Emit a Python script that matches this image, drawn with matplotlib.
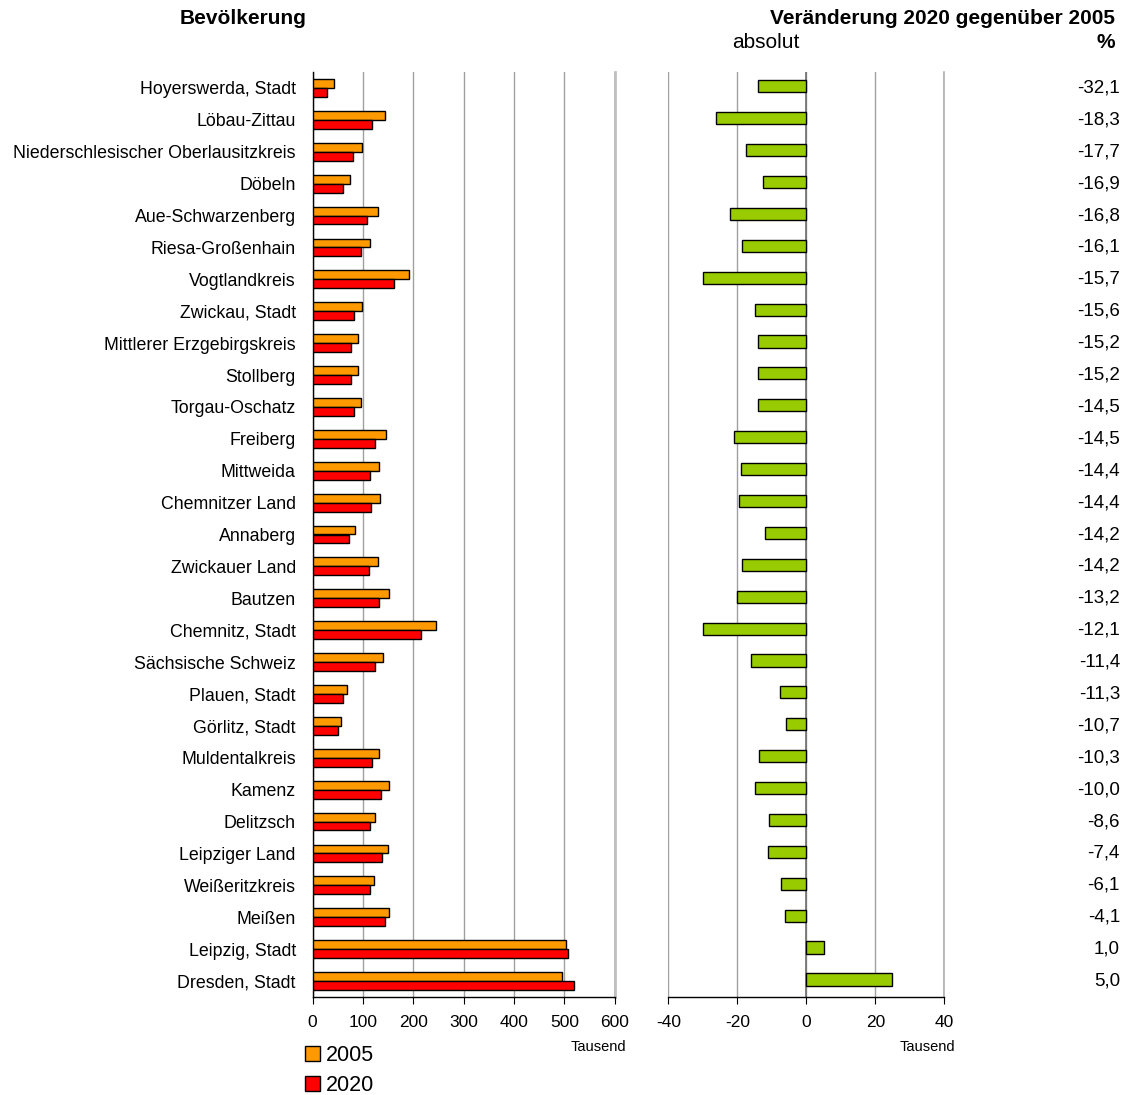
import numpy as np
import matplotlib.pyplot as plt
from matplotlib.patches import Patch
from matplotlib.transforms import blended_transform_factory

plt.rcParams['font.family'] = ['Liberation Sans', 'DejaVu Sans']
plt.rcParams['axes.unicode_minus'] = False

# Kreise, sortiert nach relativer Veraenderung
regions = ['Hoyerswerda, Stadt', 'Löbau-Zittau', 'Niederschlesischer Oberlausitzkreis',
           'Döbeln', 'Aue-Schwarzenberg', 'Riesa-Großenhain', 'Vogtlandkreis',
           'Zwickau, Stadt', 'Mittlerer Erzgebirgskreis', 'Stollberg', 'Torgau-Oschatz',
           'Freiberg', 'Mittweida', 'Chemnitzer Land', 'Annaberg', 'Zwickauer Land',
           'Bautzen', 'Chemnitz, Stadt', 'Sächsische Schweiz', 'Plauen, Stadt',
           'Görlitz, Stadt', 'Muldentalkreis', 'Kamenz', 'Delitzsch', 'Leipziger Land',
           'Weißeritzkreis', 'Meißen', 'Leipzig, Stadt', 'Dresden, Stadt']

# Bevoelkerung in Tausend
pop_2005 = [43.5, 143.5, 97.5, 73.5, 130, 114.5, 192, 98, 90, 90, 97,
            146, 133, 135, 84, 130, 151.5, 246, 140, 68, 57, 132, 151,
            124, 149, 122, 151, 502.5, 495]
pop_2020 = [29.5, 117.2, 80, 61, 108, 96, 162, 83, 76, 76, 83,
            125, 114, 115.6, 72, 111.5, 131.5, 216, 124, 60.3, 51, 118.4, 136,
            113.3, 138, 114.6, 144.8, 507.5, 519.8]

pct_labels = ['-32,1', '-18,3', '-17,7', '-16,9', '-16,8', '-16,1', '-15,7', '-15,6',
              '-15,2', '-15,2', '-14,5', '-14,5', '-14,4', '-14,4', '-14,2', '-14,2',
              '-13,2', '-12,1', '-11,4', '-11,3', '-10,7', '-10,3', '-10,0', '-8,6',
              '-7,4', '-6,1', '-4,1', '1,0', '5,0']

change = np.array(pop_2020) - np.array(pop_2005)
y = np.arange(len(regions))

W, H = 1126, 1095
fig = plt.figure(figsize=(W / 100, H / 100), dpi=100)

bottom = 1 - 997 / H
height = (997 - 72) / H
ax1 = fig.add_axes([312.5 / W, bottom, (614.7 - 312.5) / W, height])
ax2 = fig.add_axes([668.3 / W, bottom, (944.3 - 668.3) / W, height])

bh = 0.28
ax1.barh(y - bh / 2, pop_2005, height=bh, color='#FF9900', edgecolor='black', linewidth=1, zorder=3)
ax1.barh(y + bh / 2, pop_2020, height=bh, color='#FF0000', edgecolor='black', linewidth=1, zorder=3)
ax2.barh(y - 0.05, change, height=0.38, color='#99CC00', edgecolor='black', linewidth=1, zorder=3)

ax1.set_xlim(0, 600)
ax1.set_xticks(range(0, 601, 100))
ax2.set_xlim(-40, 40)
ax2.set_xticks(range(-40, 41, 20))
for ax in (ax1, ax2):
    ax.set_ylim(len(regions) - 0.5, -0.5)
    ax.grid(axis='x', color='#a0a0a0', linewidth=1, zorder=0)
    for s in ('top', 'right', 'left'):
        ax.spines[s].set_visible(False)
    ax.spines['bottom'].set_linewidth(1)
    ax.tick_params(axis='x', direction='out', length=5, labelsize=12.5, pad=8)
    ax.tick_params(axis='y', length=0)
ax1.axvline(600, color='#c0c0c0', linewidth=2, zorder=0, clip_on=False)
ax2.axvline(40, color='#b0b0b0', linewidth=1.2, zorder=0, clip_on=False)

ax1.spines['left'].set_visible(True)
ax1.spines['left'].set_linewidth(1)
ax1.set_yticks(y)
ax1.set_yticklabels(regions, fontsize=12.8)
ax1.tick_params(axis='y', pad=12)
ax2.set_yticks([])
ax2.axvline(0, color='#707070', linewidth=1.2, zorder=2)

# Prozentwerte rechts
tr = blended_transform_factory(fig.transFigure, ax2.transData)
for yi, lab in zip(y, pct_labels):
    ax2.text(1120 / W, yi, lab, transform=tr, ha='right', va='center', fontsize=13.5)

# Ueberschriften
fig.text(243 / W, 1 - 18 / H, 'Bevölkerung', ha='center', va='center', fontsize=15, fontweight='bold')
fig.text(1115 / W, 1 - 18 / H, 'Veränderung 2020 gegenüber 2005', ha='right', va='center',
         fontsize=15, fontweight='bold')
fig.text(766 / W, 1 - 43 / H, 'absolut', ha='center', va='center', fontsize=15)
fig.text(1115 / W, 1 - 43 / H, '%', ha='right', va='center', fontsize=15, fontweight='bold')

fig.text(598 / W, 1 - 1047 / H, 'Tausend', ha='center', va='center', fontsize=10.5)
fig.text(927 / W, 1 - 1047 / H, 'Tausend', ha='center', va='center', fontsize=10.5)

handles = [Patch(facecolor='#FF9900', edgecolor='black', label='2005'),
           Patch(facecolor='#FF0000', edgecolor='black', label='2020')]
fig.legend(handles=handles, loc='upper left', bbox_to_anchor=(296 / W, 1 - 1036 / H),
           frameon=False, fontsize=15.5, handlelength=0.7, handleheight=0.7,
           handletextpad=0.3, labelspacing=0.45, borderaxespad=0)

fig.savefig('out.png', dpi=100)
